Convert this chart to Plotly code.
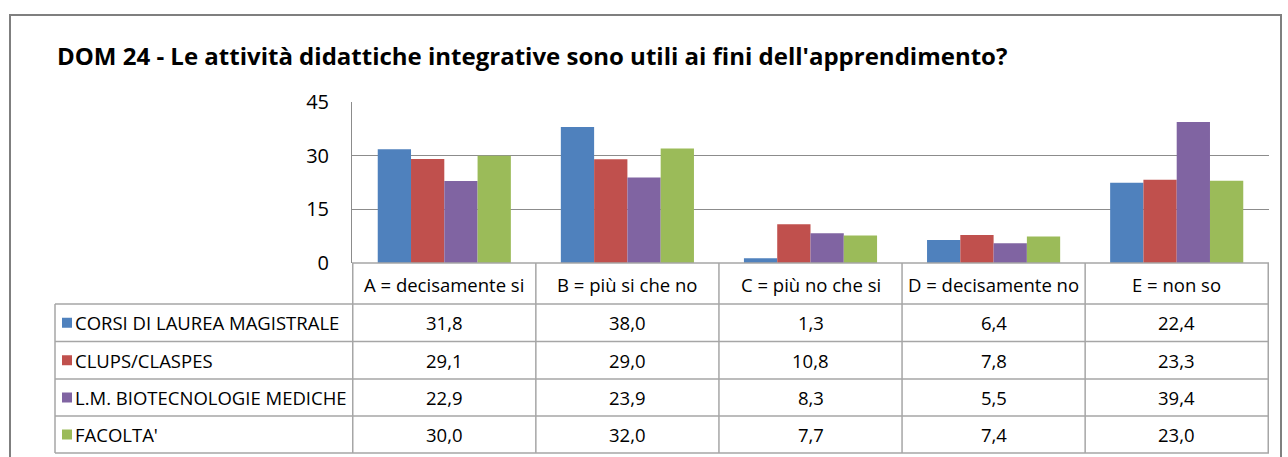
############################################################
# DOM 24 - grouped bar chart with an Excel-like data table #
############################################################

import plotly.graph_objects as go

# data
categories = ["A = decisamente si", "B = più si che no", "C = più no che si",
              "D = decisamente no", "E = non so"]
series_names = ["CORSI DI LAUREA MAGISTRALE", "CLUPS/CLASPES",
                "L.M. BIOTECNOLOGIE MEDICHE", "FACOLTA'"]
corsi_lm = [31.8, 38.0, 1.3, 6.4, 22.4]
clups = [29.1, 29.0, 10.8, 7.8, 23.3]
lm_biotec = [22.9, 23.9, 8.3, 5.5, 39.4]
facolta = [30.0, 32.0, 7.7, 7.4, 23.0]
y_ticks = [0, 15, 30, 45]

title = "DOM 24 - Le attività didattiche integrative sono utili ai fini dell'apprendimento?"

# styling
colors = ["#4F81BD", "#C0504D", "#8064A2", "#9BBB59"]
W, H = 1288, 457
L, R, T, B = 352, 1269, 102, 263      # plot area in pixels
FONT = "Open Sans"
grid_col = "#8C8C8C"
table_col = "#A6A6A6"


def px_x(X):
    # pixel x -> paper x
    return (X - L) / (R - L)


def px_y(Y):
    # pixel y -> paper y
    return (B - Y) / (B - T)


fig = go.Figure()
all_series = [corsi_lm, clups, lm_biotec, facolta]
for name, vals, col in zip(series_names, all_series, colors):
    fig.add_trace(go.Bar(x=categories, y=vals, name=name, marker_color=col,
                         marker_line_width=0))

shapes = []
annotations = []

# table row boundaries (pixels)
row_lines = [304, 341.5, 379, 416, 453]
cell_font = dict(family=FONT, size=18.5, color="black")

# horizontal table lines
shapes.append(dict(type="line", xref="paper", yref="paper", x0=0, x1=1,
                   y0=0, y1=0, line=dict(color=table_col, width=1.5)))
for Y in row_lines:
    shapes.append(dict(type="line", xref="paper", yref="paper",
                       x0=px_x(55), x1=1, y0=px_y(Y), y1=px_y(Y),
                       line=dict(color=table_col, width=1.5)))
# vertical table lines
shapes.append(dict(type="line", xref="paper", yref="paper",
                   x0=px_x(55), x1=px_x(55), y0=px_y(304), y1=px_y(453),
                   line=dict(color=table_col, width=1.5)))
for i in range(len(categories) + 1):
    shapes.append(dict(type="line", xref="x", yref="paper",
                       x0=i - 0.5, x1=i - 0.5, y0=0, y1=px_y(453),
                       line=dict(color=table_col, width=1.5)))

# header row with category names
for cat in categories:
    annotations.append(dict(x=cat, y=px_y(284), xref="x", yref="paper",
                            text=cat, showarrow=False, xanchor="center",
                            yanchor="middle", font=cell_font))

# series rows: legend key, name, values
for r, (name, vals, col) in enumerate(zip(series_names, all_series, colors)):
    yc = (row_lines[r] + row_lines[r + 1]) / 2
    shapes.append(dict(type="rect", xref="paper", yref="paper",
                       x0=px_x(62), x1=px_x(72), y0=px_y(yc + 5), y1=px_y(yc - 5),
                       fillcolor=col, line=dict(width=0)))
    annotations.append(dict(x=px_x(73), y=px_y(yc), xref="paper", yref="paper",
                            text=name, showarrow=False, xanchor="left",
                            yanchor="middle", font=cell_font))
    for cat, v in zip(categories, vals):
        annotations.append(dict(x=cat, y=px_y(yc), xref="x", yref="paper",
                                text=f"{v:.1f}".replace(".", ","), showarrow=False,
                                xanchor="center", yanchor="middle", font=cell_font))

# outer chart frame
shapes.append(dict(type="rect", xref="paper", yref="paper",
                   x0=px_x(10), x1=px_x(1281), y0=px_y(15), y1=px_y(470),
                   line=dict(color="#7F7F7F", width=2), fillcolor="rgba(0,0,0,0)"))

fig.update_layout(
    width=W, height=H,
    margin=dict(l=L, r=W - R, t=T, b=H - B),
    paper_bgcolor="white", plot_bgcolor="white",
    barmode="group", bargap=0.273, bargroupgap=0,
    showlegend=False,
    title=dict(text=title, x=57 / W, xanchor="left", y=1 - 57 / H, yanchor="middle",
               xref="container", yref="container",
               font=dict(family=FONT, size=24, color="black", weight=700)),
    shapes=shapes, annotations=annotations,
)
fig.update_xaxes(showticklabels=False, showgrid=False, zeroline=False,
                 showline=False, ticks="")
fig.update_yaxes(range=[0, 45], tickvals=y_ticks, showgrid=True, gridcolor=grid_col,
                 gridwidth=1, zeroline=False, showline=True, linecolor=grid_col,
                 linewidth=1, ticks="", ticklabelstandoff=18,
                 tickfont=dict(family=FONT, size=20, color="black"))

fig.write_html("out.html", config={"displayModeBar": False},
               post_script="document.body.style.margin='0';")
